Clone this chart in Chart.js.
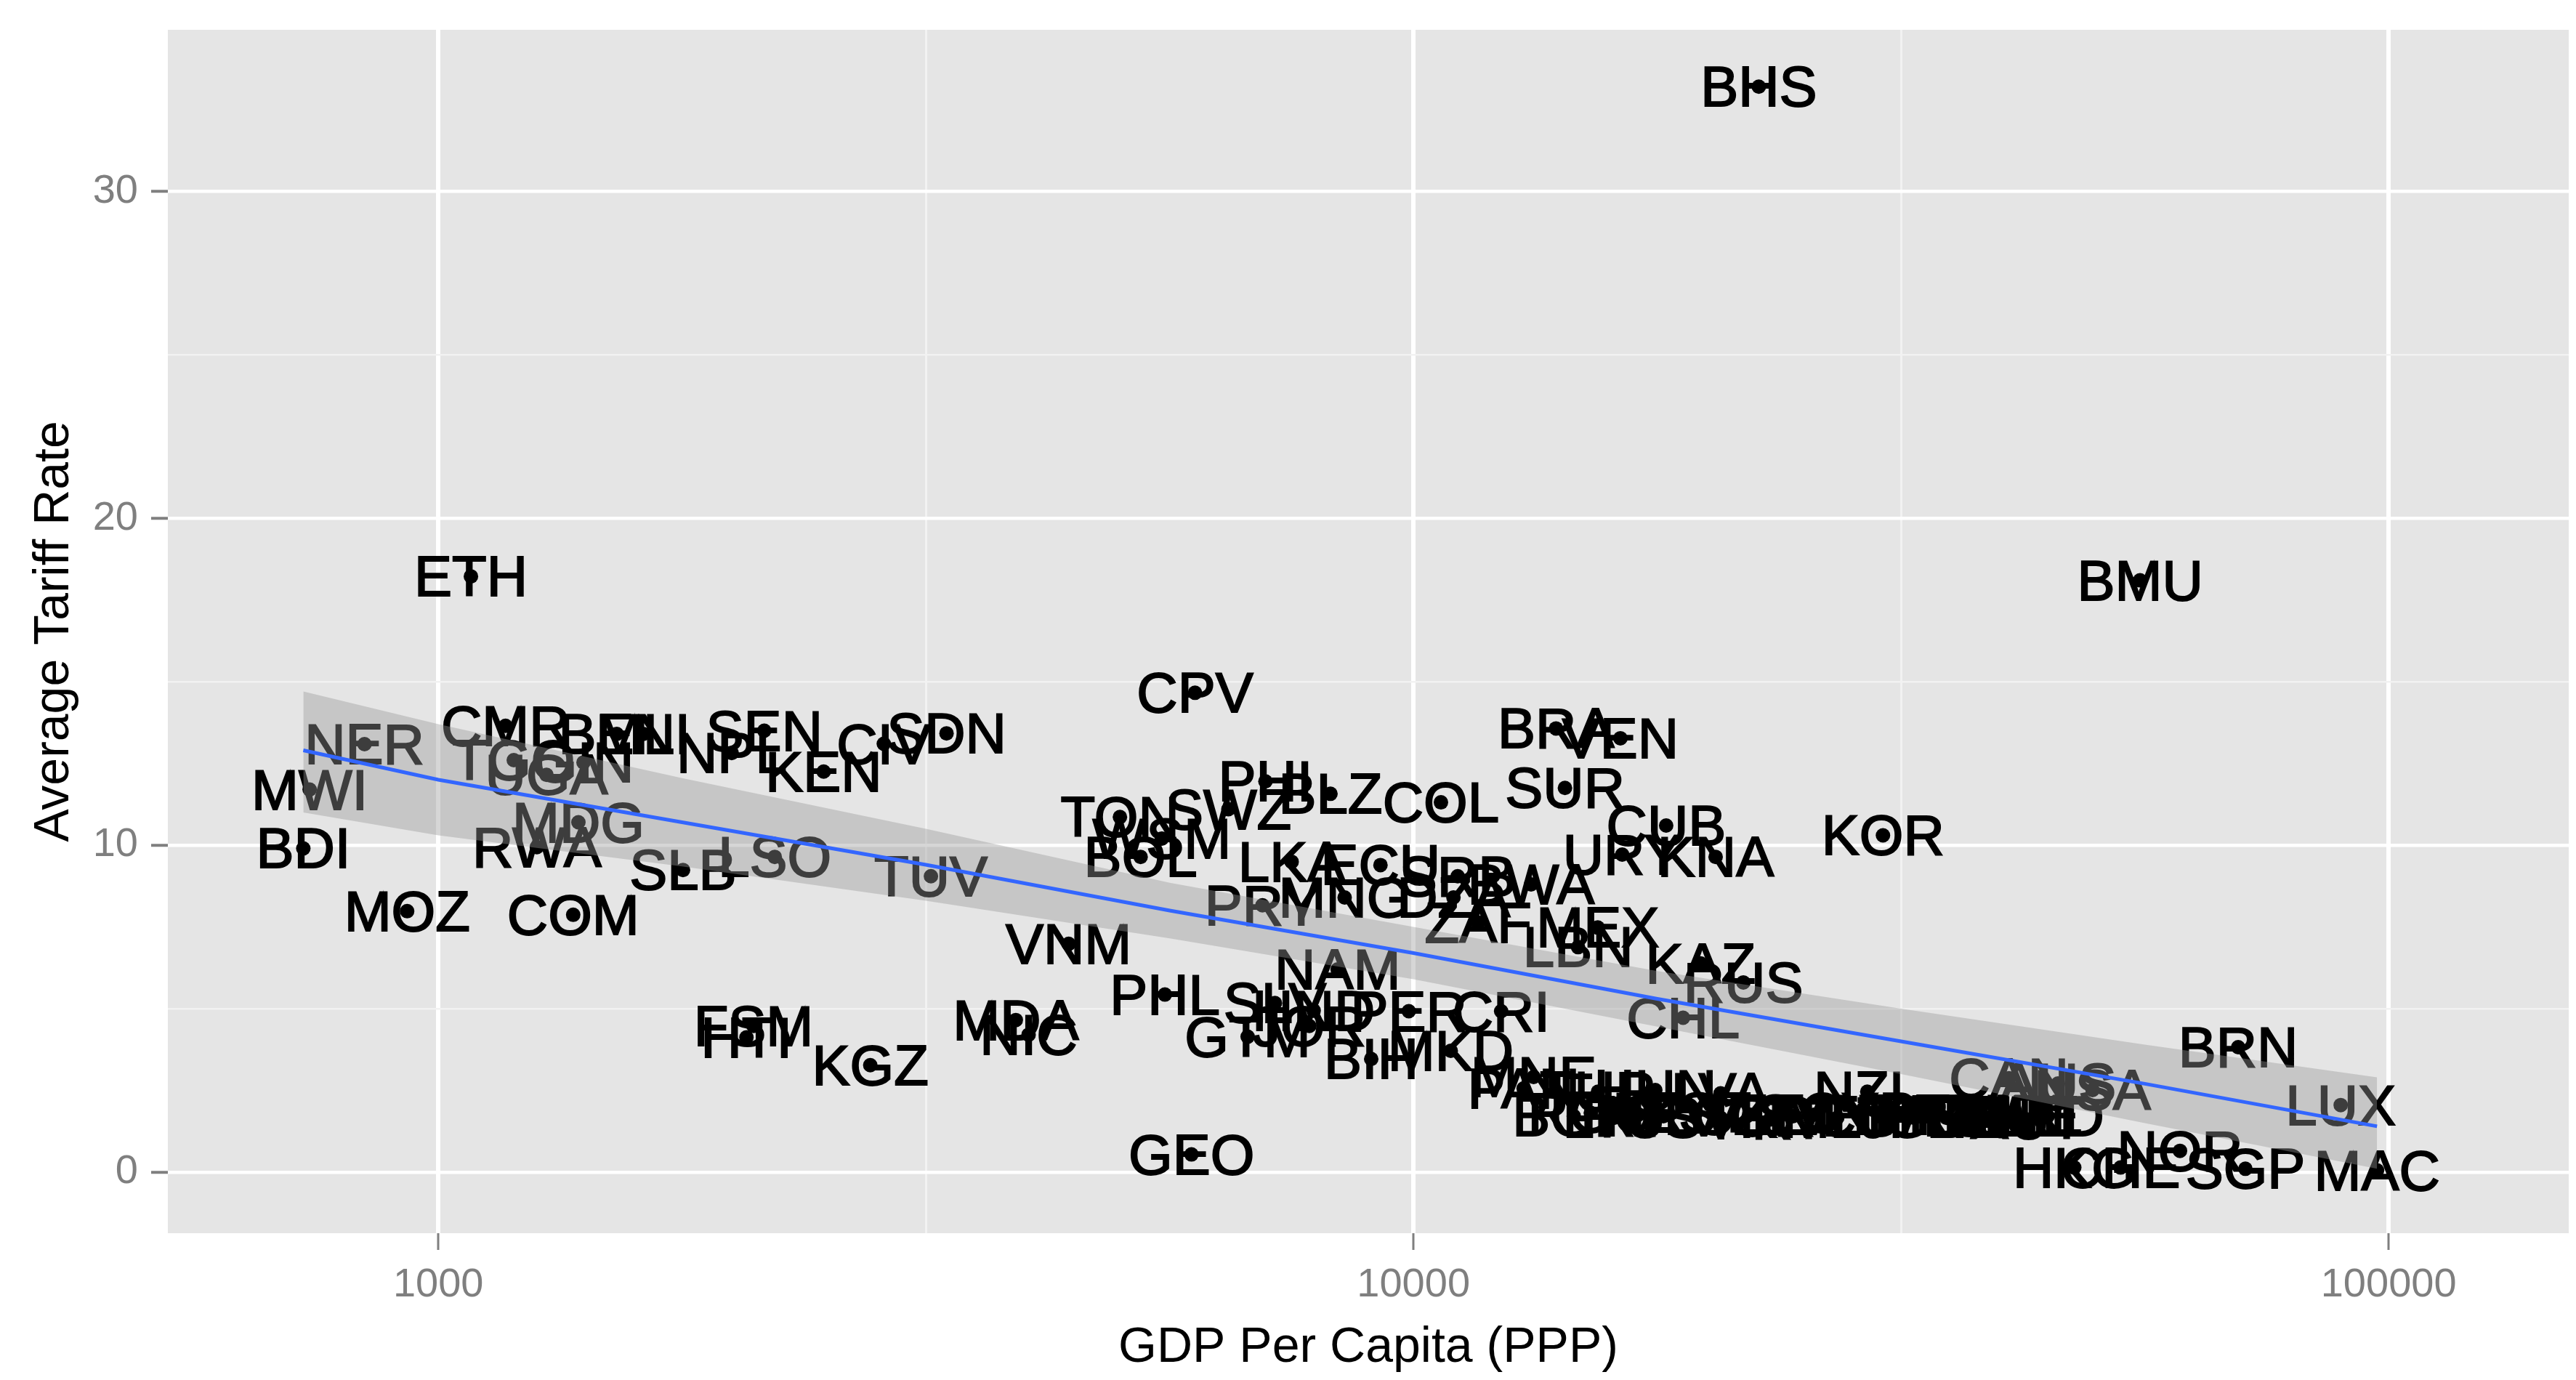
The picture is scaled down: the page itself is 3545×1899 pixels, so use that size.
<!DOCTYPE html>
<html>
<head>
<meta charset="utf-8">
<script src="https://cdn.jsdelivr.net/npm/chart.js@4.4.1/dist/chart.umd.min.js"></script>
<style>
  html, body { margin: 0; padding: 0; background: #ffffff; }
</style>
</head>
<body>
<canvas id="tariffChart" width="3545" height="1899"></canvas>
<script>
// country codes, GDP per capita (PPP) and average tariff rate
var countries = [
  'NER','MWI','BDI','MOZ','COM','RWA','MDG','ETH','CMR','TGO','UGA','GIN','BEN','MLI','NPL','SEN','KEN','CIV','SDN',
  'SLB','LSO','TUV','FSM','HTI','KGZ','MDA','NIC','VNM','GEO','CPV','TON','WSM','SWZ','BOL','PHI','BLZ','COL',
  'LKA','ECU','SRB','BWA','PRY','MNG','DZA','ZAF','NAM','PHL','SLV','GTM','HND','JOR','PER','CRI','MKD','BIH','MNE',
  'BRA','VEN','SUR','CUB','URY','KNA','KOR','MEX','LBN','KAZ','RUS','CHL','BHS','BMU',
  'PAN','TUR','HUN','LVA','NZL',
  'BGR','ROU','LTU','POL','HRV','EST','SVK','CZE','PRT','GRC','SVN','MLT','CYP','ESP','ITA','JPN','FRA','GBR','FIN','BEL','DEU','DNK','SWE','AUT','IRL','NLD',
  'CAN','AUS','USA','BRN','LUX','NOR','HKG','CHE','SGP','MAC'
];
var gdpPerCapita = [
  840, 738, 727, 929, 1375, 1262, 1392, 1080, 1172, 1195, 1291, 1409, 1524, 1622, 1999, 2159, 2484, 2863, 3320,
  1782, 2213, 3200, 2105, 2070, 2773, 3910, 4030, 4430, 5920, 5970, 5000, 5520, 6460, 5250, 7050, 8220, 10670,
  7500, 9250, 11100, 13200, 7000, 8500, 10990, 11650, 8360, 5560, 7210, 6760, 7900, 7820, 9890, 12300, 10920, 9050, 13280,
  14000, 16300, 14300, 18160, 16370, 20410, 30300, 15450, 14750, 19700, 21790, 18900, 22600, 55600,
  12970, 15460, 17700, 20650, 29200,
  14600, 15200, 16060, 17020, 18040, 19490, 20650, 22100, 23200, 24500, 25800, 27200, 28600, 30000, 31300, 32600, 33900, 35200, 36500, 37800, 39000, 40200, 41400, 42600, 43700, 44700,
  40800, 45800, 49700, 70100, 89300, 61100, 47600, 53100, 71300, 97300
];
var tariffRate = [
  13.09, 11.7, 9.9, 7.98, 7.87, 9.94, 10.7, 18.22, 13.65, 12.6, 12.15, 12.53, 13.4, 13.4, 12.82, 13.5, 12.25, 13.1, 13.42,
  9.24, 9.64, 9.05, 4.47, 4.12, 3.27, 4.65, 4.2, 6.98, 0.54, 14.66, 10.86, 10.2, 11.1, 9.64, 11.95, 11.57, 11.31,
  9.49, 9.39, 9.05, 8.8, 8.16, 8.4, 8.4, 7.63, 6.2, 5.43, 5.17, 4.14, 4.94, 4.47, 4.92, 4.92, 3.71, 3.46, 2.91,
  13.57, 13.27, 11.75, 10.6, 9.71, 9.64, 10.3, 7.48, 6.88, 6.38, 5.8, 4.72, 33.2, 18.1,
  2.56, 2.46, 2.51, 2.41, 2.46,
  1.71, 1.81, 1.66, 1.76, 1.71, 1.81, 1.66, 1.76, 1.61, 1.71, 1.76, 1.66, 1.81, 1.71, 1.76, 1.66, 1.76, 1.66, 1.76, 1.71, 1.66, 1.76, 1.71, 1.61, 1.76, 1.71,
  2.87, 2.71, 2.51, 3.82, 2.05, 0.65, 0.14, 0.14, 0.1, 0.05
];

// fitted line and its confidence band
var fitGdp   = [727, 1000, 1778, 3162, 5623, 10000, 17783, 31623, 56234, 97300];
var fitRate  = [12.9, 12.0, 10.7, 9.4, 8.0, 6.7, 5.3, 4.0, 2.7, 1.4];
var fitLower = [11.0, 10.3, 9.35, 8.3, 7.15, 5.9, 4.45, 3.0, 1.5, 0.1];
var fitUpper = [14.7, 13.7, 12.05, 10.5, 8.85, 7.5, 6.15, 5.0, 3.9, 2.9];

// axis breaks
var xBreaks = [1000, 3162, 10000, 31623, 100000];
var xLabels = ['1000', '', '10000', '', '100000'];
var yBreaks = [0, 5, 10, 15, 20, 25, 30];
var yLabels = ['0', '', '10', '', '20', '', '30'];

function toPoints(xs, ys) {
  return xs.map(function (x, i) { return { x: x, y: ys[i] }; });
}

function isMajor(breaks, labels, value) {
  var i = breaks.indexOf(value);
  return i >= 0 && labels[i] !== '';
}

Chart.defaults.font.family = "'Liberation Sans', Arial, sans-serif";

var panelBackground = {
  id: 'panelBackground',
  beforeDraw: function (chart) {
    var a = chart.chartArea;
    var ctx = chart.ctx;
    ctx.save();
    ctx.fillStyle = '#E5E5E5';
    ctx.fillRect(a.left, a.top, a.right - a.left, a.bottom - a.top);
    ctx.restore();
  }
};

// text labels go on top of the points, under the smoother
var countryLabels = {
  id: 'countryLabels',
  afterDatasetDraw: function (chart, args) {
    if (args.index !== 0) return;
    var ctx = chart.ctx;
    ctx.save();
    ctx.font = "78px 'Liberation Sans', Arial, sans-serif";
    ctx.fillStyle = '#000000';
    ctx.strokeStyle = '#000000';
    ctx.lineWidth = 2;
    ctx.textAlign = 'center';
    ctx.textBaseline = 'alphabetic';
    args.meta.data.forEach(function (pt, i) {
      ctx.fillText(countries[i], pt.x, pt.y + 27);
      ctx.strokeText(countries[i], pt.x, pt.y + 27);
    });
    ctx.restore();
  }
};

var ctx = document.getElementById('tariffChart');
var tariffChart = new Chart(ctx, {
  type: 'scatter',
  data: {
    datasets: [
      {
        label: 'countries',
        data: toPoints(gdpPerCapita, tariffRate),
        backgroundColor: '#000000',
        borderWidth: 0,
        pointRadius: 10,
        order: 3
      },
      {
        type: 'line',
        label: 'upper',
        data: toPoints(fitGdp, fitUpper),
        borderWidth: 0,
        borderColor: 'rgba(0,0,0,0)',
        backgroundColor: 'rgba(153,153,153,0.4)',
        pointRadius: 0,
        tension: 0,
        fill: '+1',
        order: 2
      },
      {
        type: 'line',
        label: 'lower',
        data: toPoints(fitGdp, fitLower),
        borderWidth: 0,
        borderColor: 'rgba(0,0,0,0)',
        pointRadius: 0,
        tension: 0,
        fill: false,
        order: 2
      },
      {
        type: 'line',
        label: 'fit',
        data: toPoints(fitGdp, fitRate),
        borderColor: '#3366FF',
        borderWidth: 5,
        pointRadius: 0,
        tension: 0,
        fill: false,
        order: 1
      }
    ]
  },
  options: {
    responsive: false,
    animation: false,
    events: [],
    layout: { padding: { top: 41, right: 0, bottom: 0, left: 0 } },
    plugins: {
      legend: { display: false },
      tooltip: { enabled: false }
    },
    scales: {
      x: {
        type: 'logarithmic',
        min: 528,
        max: 153000,
        afterBuildTicks: function (scale) {
          scale.ticks = xBreaks.map(function (v) { return { value: v }; });
        },
        afterFit: function (scale) {
          scale.height = 202;
          scale.paddingLeft = 0;
          scale.paddingRight = 0;
        },
        border: { display: false },
        grid: {
          color: function (c) { return isMajor(xBreaks, xLabels, c.tick && c.tick.value) ? '#FFFFFF' : '#F2F2F2'; },
          lineWidth: function (c) { return isMajor(xBreaks, xLabels, c.tick && c.tick.value) ? 6 : 3; },
          tickColor: function (c) { return isMajor(xBreaks, xLabels, c.tick && c.tick.value) ? '#7F7F7F' : 'rgba(0,0,0,0)'; },
          tickWidth: 3,
          tickLength: 23
        },
        ticks: {
          autoSkip: false,
          maxRotation: 0,
          padding: 15,
          color: '#7F7F7F',
          font: { size: 56 },
          callback: function (value) {
            var i = xBreaks.indexOf(value);
            return i >= 0 ? xLabels[i] : '';
          }
        },
        title: {
          display: true,
          text: 'GDP Per Capita (PPP)',
          color: '#000000',
          font: { size: 68 },
          padding: { top: 0, bottom: 3 }
        }
      },
      y: {
        type: 'linear',
        min: -1.87,
        max: 34.94,
        afterBuildTicks: function (scale) {
          scale.ticks = yBreaks.map(function (v) { return { value: v }; });
        },
        afterFit: function (scale) {
          scale.width = 231;
          scale.paddingTop = 0;
          scale.paddingBottom = 0;
        },
        border: { display: false },
        grid: {
          color: function (c) { return isMajor(yBreaks, yLabels, c.tick && c.tick.value) ? '#FFFFFF' : '#F2F2F2'; },
          lineWidth: function (c) { return isMajor(yBreaks, yLabels, c.tick && c.tick.value) ? 4.5 : 2.5; },
          tickColor: function (c) { return isMajor(yBreaks, yLabels, c.tick && c.tick.value) ? '#7F7F7F' : 'rgba(0,0,0,0)'; },
          tickWidth: 4,
          tickLength: 23
        },
        ticks: {
          autoSkip: false,
          padding: 18,
          color: '#7F7F7F',
          font: { size: 56 },
          callback: function (value) {
            var i = yBreaks.indexOf(value);
            return i >= 0 ? yLabels[i] : '';
          }
        },
        title: {
          display: true,
          text: 'Average Tariff Rate',
          color: '#000000',
          font: { size: 68 },
          padding: { top: 34, bottom: 0 }
        }
      }
    }
  },
  plugins: [panelBackground, countryLabels]
});
</script>
</body>
</html>
